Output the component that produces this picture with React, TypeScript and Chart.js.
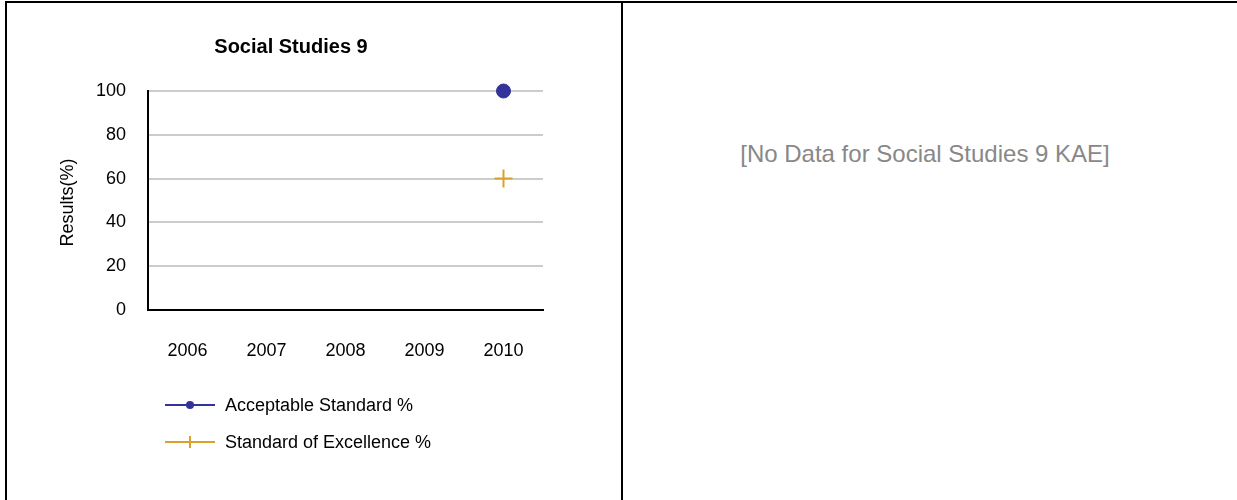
import React, { useEffect, useRef } from "react";
import { Chart, registerables } from "chart.js";

Chart.register(...registerables);

const chartTitle = "Social Studies 9";
const yAxisTitle = "Results(%)";
const years = ["2006", "2007", "2008", "2009", "2010"];
const acceptableStandard: (number | null)[] = [null, null, null, null, 100];
const standardOfExcellence: (number | null)[] = [null, null, null, null, 60];
const seriesNames = ["Acceptable Standard %", "Standard of Excellence %"];
const yMin = 0;
const yMax = 100;
const yStep = 20;
const noDataText = "[No Data for Social Studies 9 KAE]";

const FONT = "'Liberation Sans', Arial, sans-serif";
const BLUE = "#333399";
const GOLD = "#D9A12E";
const TXT = 18;

const yTitlePlugin = {
  id: "yTitle",
  afterDraw(chart: any) {
    const ctx = chart.ctx as CanvasRenderingContext2D;
    const area = chart.chartArea;
    ctx.save();
    ctx.translate(area.left - 80, (area.top + area.bottom) / 2 + 2);
    ctx.rotate(-Math.PI / 2);
    ctx.fillStyle = "#000";
    ctx.font = `${TXT}px ${FONT}`;
    ctx.textAlign = "center";
    ctx.textBaseline = "middle";
    ctx.fillText(yAxisTitle, 0, 0);
    ctx.restore();
  },
};

const legendPlugin = {
  id: "customLegend",
  afterDraw(chart: any) {
    const ctx = chart.ctx as CanvasRenderingContext2D;
    const area = chart.chartArea;
    chart.data.datasets.forEach((ds: any, i: number) => {
      const y = area.bottom + 95 + i * 37;
      const x0 = area.left + 17;
      const x1 = x0 + 50;
      const mx = (x0 + x1) / 2;
      ctx.save();
      ctx.strokeStyle = ds.borderColor;
      ctx.lineWidth = 2;
      ctx.beginPath();
      ctx.moveTo(x0, y);
      ctx.lineTo(x1, y);
      ctx.stroke();
      if (ds.pointStyle === "circle") {
        ctx.fillStyle = ds.backgroundColor;
        ctx.beginPath();
        ctx.arc(mx, y, 4, 0, Math.PI * 2);
        ctx.fill();
      } else {
        ctx.beginPath();
        ctx.moveTo(mx, y - 6);
        ctx.lineTo(mx, y + 6);
        ctx.stroke();
      }
      ctx.fillStyle = "#000";
      ctx.font = `${TXT}px ${FONT}`;
      ctx.textBaseline = "middle";
      ctx.textAlign = "left";
      ctx.fillText(ds.label, x1 + 10, y + 1);
      ctx.restore();
    });
  },
};

function ChartBox() {
  const ref = useRef<HTMLCanvasElement | null>(null);
  useEffect(() => {
    if (!ref.current) return;
    const chart = new Chart(ref.current, {
      type: "line",
      data: {
        labels: years,
        datasets: [
          {
            label: seriesNames[0],
            data: acceptableStandard,
            borderColor: BLUE,
            backgroundColor: BLUE,
            pointStyle: "circle",
            pointRadius: 7,
            pointBorderWidth: 1,
            borderWidth: 2,
            clip: false,
          },
          {
            label: seriesNames[1],
            data: standardOfExcellence,
            borderColor: GOLD,
            backgroundColor: GOLD,
            pointStyle: "cross",
            pointRadius: 9,
            pointBorderWidth: 2,
            borderWidth: 2,
            clip: false,
          },
        ],
      },
      options: {
        animation: false,
        responsive: false,
        devicePixelRatio: 1,
        layout: { padding: { left: 32, right: 32, top: 0, bottom: 0 } },
        plugins: {
          legend: { display: false },
          tooltip: { enabled: false },
          title: {
            display: true,
            text: chartTitle,
            color: "#000",
            font: { family: FONT, size: 20, weight: "bold" },
            padding: { top: 32, bottom: 32 },
          },
        },
        scales: {
          x: {
            type: "category",
            offset: true,
            grid: { display: false, drawTicks: false },
            border: { display: true, color: "#000", width: 2 },
            ticks: { color: "#000", padding: 30, font: { family: FONT, size: TXT } },
            afterFit: (s: any) => {
              s.height = 190;
            },
          },
          y: {
            min: yMin,
            max: yMax,
            grid: { color: "#cccccc", lineWidth: 2, drawTicks: false },
            border: { display: true, color: "#000", width: 2 },
            ticks: { stepSize: yStep, color: "#000", padding: 22, font: { family: FONT, size: TXT } },
            afterFit: (s: any) => {
              s.width = 109;
            },
          },
        },
      },
      plugins: [legendPlugin, yTitlePlugin],
    });
    return () => chart.destroy();
  }, []);
  return <canvas ref={ref} width={568} height={497} style={{ display: "block", width: 568, height: 497 }} />;
}

export default function App() {
  return (
    <div style={{ position: "fixed", left: 0, top: 0, width: 1237, height: 500, background: "#fff", overflow: "hidden", fontFamily: FONT }}>
      <div style={{ position: "absolute", left: 5, top: 1, width: 1240, height: 2, background: "#000" }} />
      <div style={{ position: "absolute", left: 5, top: 1, width: 2, height: 499, background: "#000" }} />
      <div style={{ position: "absolute", left: 621, top: 1, width: 2, height: 499, background: "#000" }} />
      <div style={{ position: "absolute", left: 7, top: 3 }}>
        <ChartBox />
      </div>
      <div
        style={{
          position: "absolute",
          left: 623,
          top: 138,
          width: 604,
          textAlign: "center",
          color: "#888888",
          fontSize: 24,
          lineHeight: "32px",
        }}
      >
        {noDataText}
      </div>
    </div>
  );
}
